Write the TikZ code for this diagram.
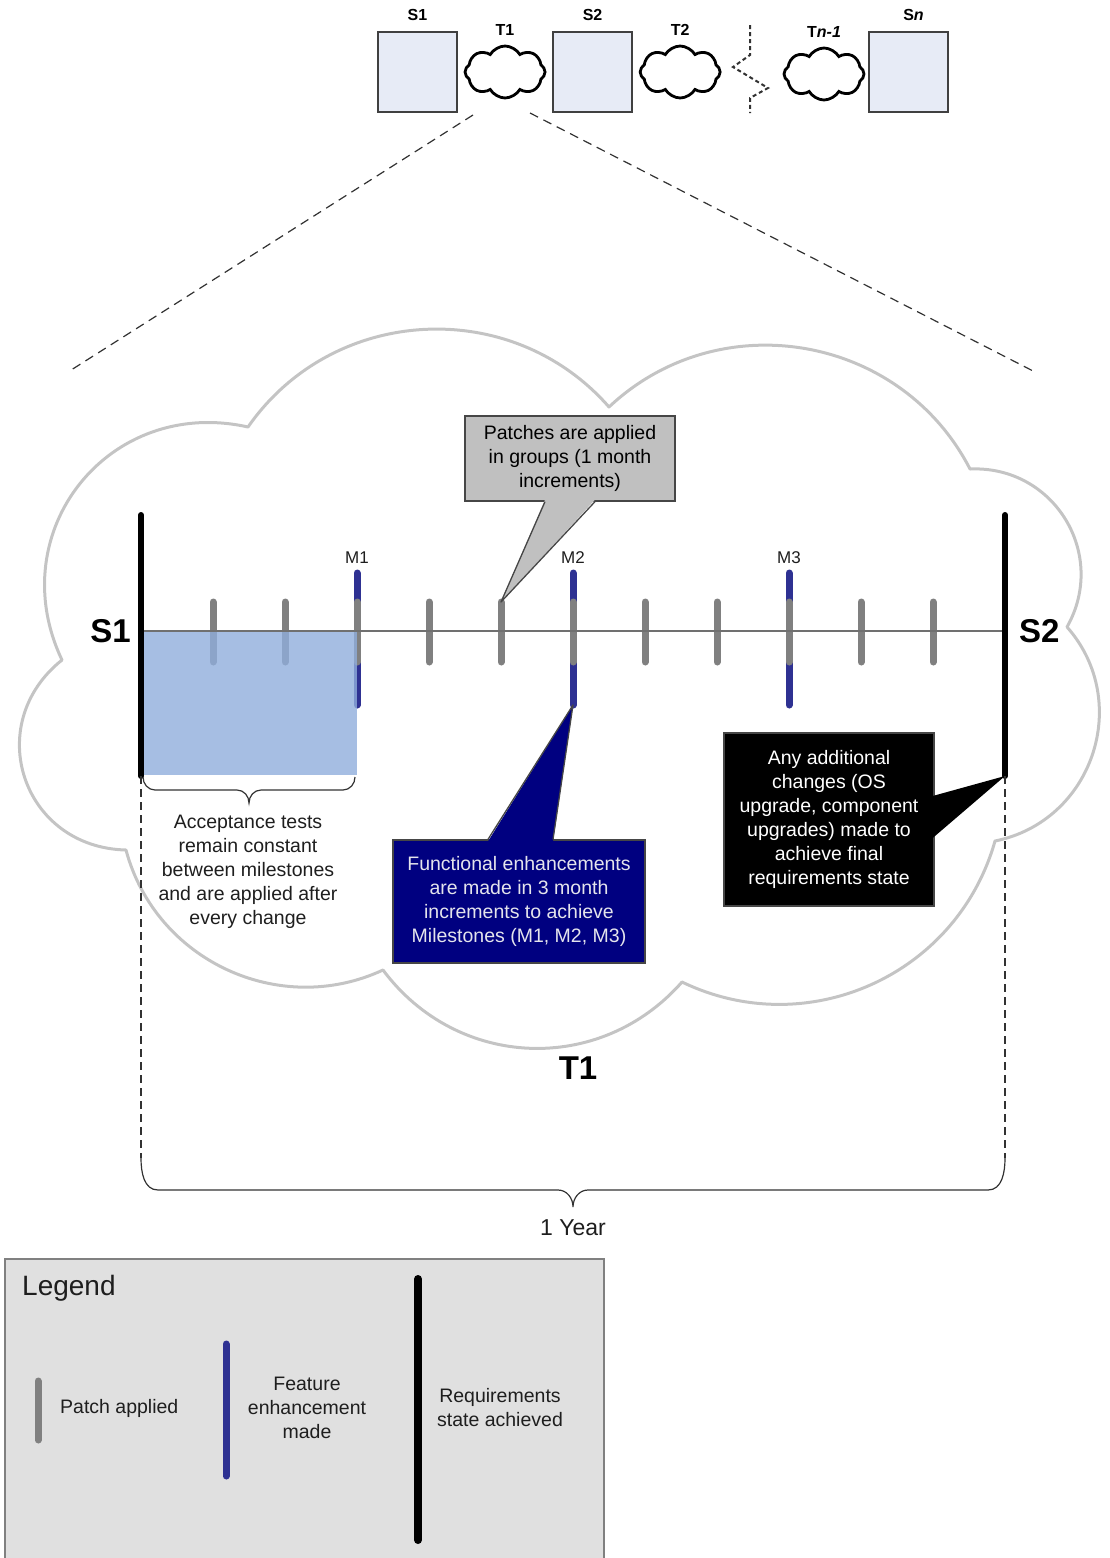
\documentclass[tikz,border=0pt]{standalone}
\usepackage{fontspec}
\setmainfont{Liberation Sans}
\usetikzlibrary{shapes.symbols,positioning,calc}

\definecolor{stagefill}{RGB}{231,235,246}
\definecolor{boxedge}{RGB}{64,64,64}
\definecolor{cloudgray}{RGB}{196,196,196}
\definecolor{patchgray}{RGB}{128,128,128}
\definecolor{axisgray}{RGB}{112,112,112}
\definecolor{featblue}{RGB}{46,49,146}
\definecolor{accblue}{RGB}{144,174,220}
\definecolor{notegray}{RGB}{192,192,192}
\definecolor{noteedge}{RGB}{70,70,70}
\definecolor{navyfill}{RGB}{0,0,128}
\definecolor{navytext}{RGB}{228,228,236}
\definecolor{legendfill}{RGB}{224,224,224}
\definecolor{legendedge}{RGB}{128,128,128}
\definecolor{txtgray}{RGB}{30,30,30}
\definecolor{darkline}{RGB}{50,50,50}

\newcommand{\bodyfont}{\fontsize{19.5}{24}\selectfont}

\tikzset{
    stage/.style={rectangle, draw=boxedge, fill=stagefill, line width=1.3pt,
                  minimum width=79pt, minimum height=80pt, inner sep=0pt},
    trans/.style={cloud, cloud puffs=8, cloud puff arc=120, aspect=1.5,
                  draw=black, line width=2.8pt, minimum width=80pt,
                  minimum height=52pt, inner sep=0pt},
    toplabel/.style={font=\bfseries\fontsize{16}{18}\selectfont, inner sep=0pt},
    biglabel/.style={font=\bfseries\fontsize{33}{36}\selectfont, inner sep=0pt},
    mlabel/.style={font=\fontsize{17}{20}\selectfont, text=txtgray, inner sep=0pt},
    patch/.style={draw=patchgray, line width=7pt, line cap=round},
    feature/.style={draw=featblue, line width=7pt, line cap=round},
    reqbar/.style={draw=black, line width=6pt, line cap=round},
    note/.style={rectangle, align=center, font=\bodyfont, inner sep=0pt,
                 line width=1.3pt, draw=noteedge},
    plain/.style={align=center, font=\bodyfont, text=txtgray, inner sep=0pt},
    zoomline/.style={draw=darkline, line width=1.2pt, dash pattern=on 9pt off 6pt},
    guide/.style={draw=darkline, line width=1.2pt, dash pattern=on 8pt off 5pt},
    breakline/.style={draw=darkline, line width=2pt, dash pattern=on 4pt off 3pt},
    bracepath/.style={draw=darkline, line width=1.2pt},
    cloudline/.style={draw=cloudgray, line width=3pt, line join=round},
}

\begin{document}
\begin{tikzpicture}[x=1pt, y=1pt]
    \useasboundingbox (0,0) rectangle (1110,-1558);

    % states and transitions
    \node [stage] (s1) at (417.5,-72) {};
    \node [trans, right=6pt of s1] (t1) {};
    \node [stage, right=6pt of t1] (s2) {};
    \node [trans, right=6pt of s2] (t2) {};
    \node [trans] (tn) at (824,-74) {};
    \node [stage] (sn) at (908.5,-72) {};
    \node [toplabel, above=10pt of s1] (s1lab) {S1};
    \node [toplabel, above=10pt of s2] (s2lab) {S2};
    \node [toplabel, above=10pt of sn, xshift=5pt] (snlab) {S\textit{n}};
    \node [toplabel, above=9pt of t1] (t1lab) {T1};
    \node [toplabel, above=9pt of t2] (t2lab) {T2};
    \node [toplabel, above=9pt of tn] (tnlab) {T\textit{n-1}};
    \draw[breakline] (750,-25) -- (750,-55) -- (733,-67) -- (768,-88)
        -- (750,-98) -- (750,-113);

    % zoom onto T1
    \coordinate (zoomA) at (473,-115);
    \coordinate (zoomB) at (68,-372);
    \coordinate (zoomC) at (530,-113);
    \coordinate (zoomD) at (1035,-372);
    \draw[zoomline] (zoomA) -- (zoomB);
    \draw[zoomline] (zoomC) -- (zoomD);

    % big cloud
    \draw[cloudline] (248,-427)
        to[bend left=52, looseness=1.05] (609,-407)
        to[bend left=53, looseness=1.06] (970,-469)
        to[bend left=61, looseness=1.16] (1067,-627)
        to[bend left=60, looseness=1.13] (995,-841)
        to[bend left=50, looseness=1.04] (682,-982)
        to[bend left=51, looseness=1.06] (383,-970)
        to[bend left=50, looseness=1.03] (126,-850)
        to[bend left=70, looseness=1.32] (62,-660)
        to[bend left=64, looseness=1.22] (248,-427) -- cycle;

    % timeline
    \coordinate (s1top) at (141,-515);
    \coordinate (s1bot) at (141,-776);
    \coordinate (s2top) at (1005,-515);
    \coordinate (s2bot) at (1005,-776);
    \foreach \x/\m in {357/M1, 573/M2, 789/M3} {
        \draw[feature] (\x,-573) -- (\x,-705);
        \node [mlabel] (\m) at (\x,-558) {\m};
    }
    \foreach \x in {213,285,...,933}
        \draw[patch] (\x,-602) -- (\x,-662);
    \fill[accblue, fill opacity=0.8] (141,-631) rectangle (357,-775);
    \draw[axisgray, line width=2pt] (141,-631) -- (1005,-631);
    \draw[reqbar] (s1top) -- (s1bot);
    \draw[reqbar] (s2top) -- (s2bot);
    \node [biglabel, anchor=east] (s1big) at (131,-631) {S1};
    \node [biglabel, anchor=west] (s2big) at (1019,-631) {S2};
    \coordinate (ptip) at (501,-602);
    \coordinate (ftip) at (573,-705);

    % callouts
    \node [note, fill=notegray, text=black, minimum width=210pt,
           minimum height=85pt] (patchnote) at (570,-458.5)
           {Patches are applied\\in groups (1 month\\increments)};
    \fill[notegray] ($(patchnote.south)+(-25,2)$) -- (ptip)
        -- ($(patchnote.south)+(25,2)$) -- cycle;
    \draw[noteedge, line width=1.3pt, line join=round]
        ($(patchnote.south)+(-25,0)$) -- (ptip) -- ($(patchnote.south)+(25,0)$);

    \node [note, fill=navyfill, text=navytext, minimum width=252pt,
           minimum height=123pt] (featnote) at (519,-901.5)
           {Functional enhancements\\are made in 3 month\\increments to achieve\\Milestones (M1, M2, M3)};
    \fill[navyfill] ($(featnote.north)+(-31,-2)$) -- (ftip)
        -- ($(featnote.north)+(34,-2)$) -- cycle;
    \draw[noteedge, line width=1.3pt, line join=round]
        ($(featnote.north)+(-31,0)$) -- (ftip) -- ($(featnote.north)+(34,0)$);

    \node [note, fill=black, text=white, minimum width=210pt,
           minimum height=173pt] (reqnote) at (829,-819.5)
           {Any additional\\changes (OS\\upgrade, component\\upgrades) made to\\achieve final\\requirements state};
    \fill[black] ($(reqnote.east)+(-2,23.5)$) -- (s2bot)
        -- ($(reqnote.east)+(-2,-18.5)$) -- cycle;

    % acceptance tests
    \draw[bracepath] (143,-777) to[out=-90,in=180] (155,-790) -- (237,-790)
        to[out=0,in=90] (249,-803) to[out=90,in=180] (261,-790) -- (343,-790)
        to[out=0,in=-90] (355,-777);
    \node [plain] (acctext) at (248,-872)
        {Acceptance tests\\remain constant\\between milestones\\and are applied after\\every change};

    \node [biglabel] (t1big) at (578,-1068) {T1};

    % one year
    \coordinate (yearL) at (141,-1158);
    \coordinate (yearR) at (1005,-1158);
    \draw[guide] (s1bot) -- (yearL);
    \draw[guide] (s2bot) -- (yearR);
    \draw[bracepath] (yearL) to[out=-90,in=180] (158,-1190) -- (558,-1190)
        to[out=0,in=90] (573,-1207) to[out=90,in=180] (588,-1190) -- (988,-1190)
        to[out=0,in=-90] (yearR);
    \node [font=\fontsize{23}{26}\selectfont, text=txtgray, inner sep=0pt]
        (year) at (573,-1228) {1 Year};

    % legend
    \node [rectangle, draw=legendedge, fill=legendfill, line width=2pt,
           minimum width=599pt, minimum height=320pt, anchor=north west]
           (legend) at (4,-1258) {};
    \node [font=\fontsize{28}{30}\selectfont, text=txtgray, inner sep=0pt,
           anchor=base west] (legtitle) at (22,-1295) {Legend};
    \draw[patch] (38,-1381) -- (38,-1440);
    \node [plain, anchor=west] (legpatch) at (60,-1408) {Patch applied};
    \draw[feature] (226,-1344) -- (226,-1476);
    \node [plain] (legfeat) at (307,-1408) {Feature\\enhancement\\made};
    \draw[reqbar, line width=8pt] (418,-1279) -- (418,-1540);
    \node [plain] (legreq) at (500,-1408) {Requirements\\state achieved};
\end{tikzpicture}
\end{document}
